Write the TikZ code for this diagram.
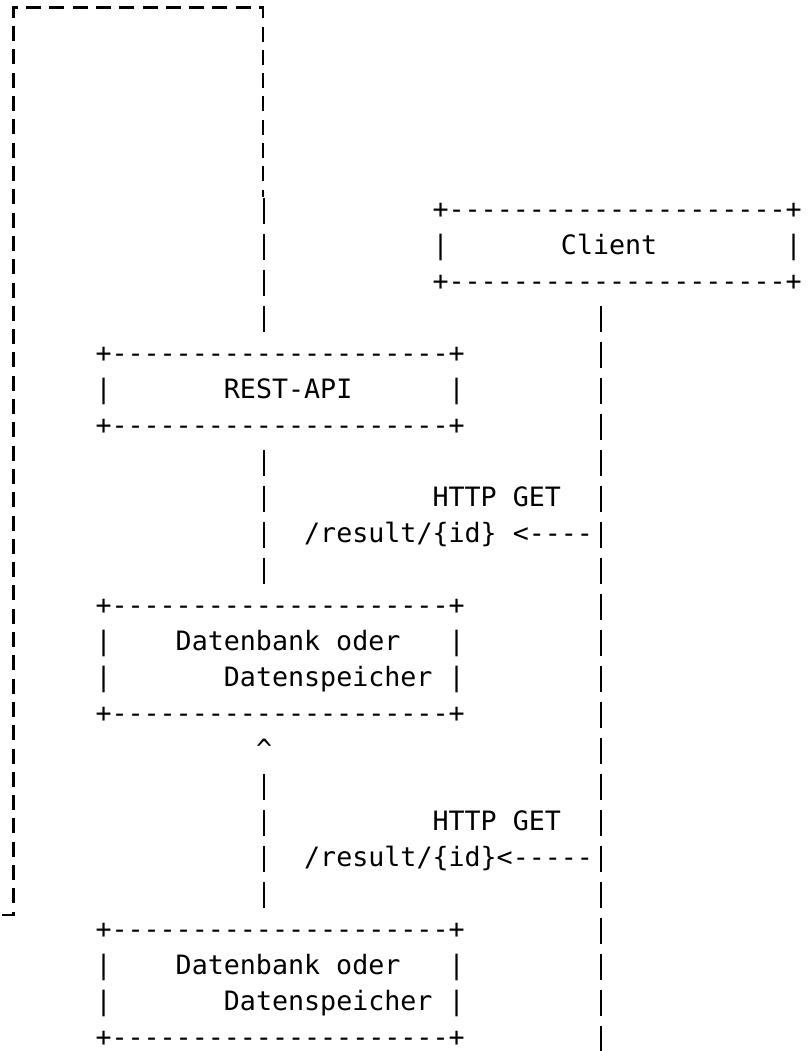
\documentclass[tikz,border=0pt]{standalone}
\usepackage{fontspec}
\newfontfamily\asciifont{DejaVu Sans Mono}[Ligatures=TeXOff, WordSpace={1,0,0}]
\usetikzlibrary{calc}

\newcommand{\cw}{16.05}
\newcommand{\asciirule}{+---------------------+}

\tikzset{
  ascii/.style={font=\asciifont\fontsize{26.66pt}{36pt}\selectfont, inner sep=0pt, anchor=base west, align=left},
  bar/.style={line width=1.9pt, dash pattern=on 26.6pt off 9.4pt},
  frame/.style={line width=2.6pt, dash pattern=on 15pt off 8.3pt, dash phase=8pt}
}

\begin{document}
\begin{tikzpicture}[x=1pt, y=-1pt]
  \useasboundingbox (0,0) rectangle (807,1051);

  % boxes (base = baseline of the last line)
  \node[ascii] (client) at ({27*\cw-1}, 290) {\asciirule\\|~~~~~~~Client~~~~~~~~|\\\asciirule};
  \node[ascii] (api) at ({6*\cw-1}, 434) {\asciirule\\|~~~~~~~REST-API~~~~~~|\\\asciirule};
  \node[ascii] (db1) at ({6*\cw-1}, 722) {\asciirule\\|~~~~Datenbank~oder~~~|\\|~~~~~~~Datenspeicher~|\\\asciirule};
  \node[ascii] (db2) at ({6*\cw-1}, 1046) {\asciirule\\|~~~~Datenbank~oder~~~|\\|~~~~~~~Datenspeicher~|\\\asciirule};

  % labels
  \node[ascii] (get1) at ({27*\cw-1}, 506) {HTTP~GET};
  \node[ascii] (res1) at ({19*\cw-1}, 542) {/result/\{id\}~<----};
  \node[ascii] (get2) at ({27*\cw-1}, 830) {HTTP~GET};
  \node[ascii] (res2) at ({19*\cw-1}, 866) {/result/\{id\}<-----};
  \node[ascii] (up) at ({16*\cw-1}, 758) {\textasciicircum};

  % rail ends
  \coordinate (loop) at ({16.5*\cw-1}, 197.7);
  \coordinate (api-n) at ({16.5*\cw-1}, 332.3);
  \coordinate (api-s) at ({16.5*\cw-1}, 449.7);
  \coordinate (db1-n) at ({16.5*\cw-1}, 584.3);
  \coordinate (tip) at ({16.5*\cw-1}, 773.7);
  \coordinate (db2-n) at ({16.5*\cw-1}, 908.3);
  \coordinate (client-s) at ({37.5*\cw-1}, 305.7);
  \coordinate (bottom) at ({37.5*\cw-1}, 1052.3);
  \coordinate (jump) at (263, 196.7);
  \coordinate (frame-nw) at (13.3, 7.3);
  \coordinate (frame-out) at (2, 915);

  \draw[bar] (loop) -- (api-n);
  \draw[bar] (api-s) -- (db1-n);
  \draw[bar] (db2-n) -- (tip);
  \draw[bar] (client-s) -- (bottom);
  \draw[frame] (jump) |- (frame-nw) |- (frame-out);
\end{tikzpicture}
\end{document}
